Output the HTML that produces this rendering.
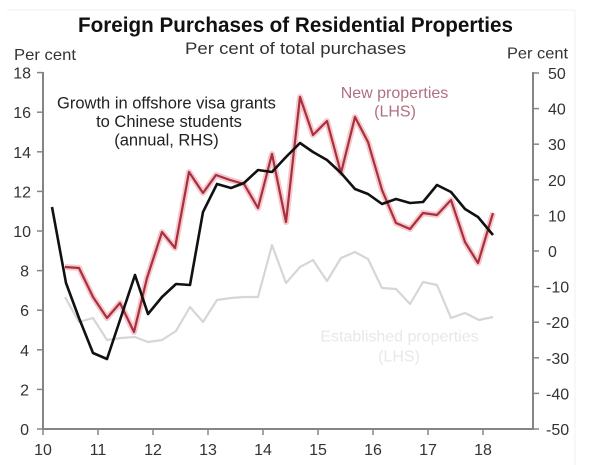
<!DOCTYPE html>
<html><head><meta charset="utf-8"><style>
html,body{margin:0;padding:0;background:#fff;}
svg{display:block;font-family:"Liberation Sans",Arial,sans-serif;}
</style></head><body>
<svg width="600" height="465" viewBox="0 0 600 465" xmlns="http://www.w3.org/2000/svg">
<rect x="0" y="0" width="600" height="465" fill="#fff"/>
<line x1="7" y1="10" x2="575" y2="10" stroke="#f0f0f0" stroke-width="1"/>
<line x1="575" y1="10" x2="575" y2="465" stroke="#f2f2f2" stroke-width="1"/>

<text x="78" y="32" font-size="21" font-weight="bold" fill="#111" textLength="435" lengthAdjust="spacingAndGlyphs">Foreign Purchases of Residential Properties</text>
<text x="185" y="54" font-size="16.5" fill="#333" textLength="221" lengthAdjust="spacingAndGlyphs">Per cent of total purchases</text>
<text x="14" y="60" font-size="16" fill="#333" textLength="62" lengthAdjust="spacingAndGlyphs">Per cent</text>
<text x="507" y="58.5" font-size="16" fill="#333" textLength="61" lengthAdjust="spacingAndGlyphs">Per cent</text>

<!-- axes -->
<g stroke="#858585" stroke-width="2" fill="none">
<line x1="43" y1="72" x2="43" y2="430"/>
<line x1="42" y1="429" x2="534" y2="429"/>
<line x1="533" y1="72" x2="533" y2="430"/>
</g>
<g stroke="#858585" stroke-width="1.5">
<line x1="37" y1="429" x2="43" y2="429"/>
<line x1="37" y1="389.4" x2="43" y2="389.4"/>
<line x1="37" y1="349.8" x2="43" y2="349.8"/>
<line x1="37" y1="310.2" x2="43" y2="310.2"/>
<line x1="37" y1="270.6" x2="43" y2="270.6"/>
<line x1="37" y1="231" x2="43" y2="231"/>
<line x1="37" y1="191.4" x2="43" y2="191.4"/>
<line x1="37" y1="151.8" x2="43" y2="151.8"/>
<line x1="37" y1="112.2" x2="43" y2="112.2"/>
<line x1="37" y1="72.6" x2="43" y2="72.6"/>
<line x1="533" y1="73" x2="539" y2="73"/>
<line x1="533" y1="108.6" x2="539" y2="108.6"/>
<line x1="533" y1="144.2" x2="539" y2="144.2"/>
<line x1="533" y1="179.8" x2="539" y2="179.8"/>
<line x1="533" y1="215.4" x2="539" y2="215.4"/>
<line x1="533" y1="251" x2="539" y2="251"/>
<line x1="533" y1="286.6" x2="539" y2="286.6"/>
<line x1="533" y1="322.2" x2="539" y2="322.2"/>
<line x1="533" y1="357.8" x2="539" y2="357.8"/>
<line x1="533" y1="393.4" x2="539" y2="393.4"/>
<line x1="533" y1="429" x2="539" y2="429"/>
<line x1="43" y1="429" x2="43" y2="435"/>
<line x1="98" y1="429" x2="98" y2="435"/>
<line x1="153" y1="429" x2="153" y2="435"/>
<line x1="208" y1="429" x2="208" y2="435"/>
<line x1="263" y1="429" x2="263" y2="435"/>
<line x1="318" y1="429" x2="318" y2="435"/>
<line x1="373" y1="429" x2="373" y2="435"/>
<line x1="428" y1="429" x2="428" y2="435"/>
<line x1="483" y1="429" x2="483" y2="435"/>
</g>

<g font-size="16" fill="#333" text-anchor="end">
<text x="29" y="435">0</text>
<text x="29" y="395.4">2</text>
<text x="29" y="355.8">4</text>
<text x="29" y="316.2">6</text>
<text x="29" y="276.6">8</text>
<text x="31" y="237">10</text>
<text x="31" y="197.4">12</text>
<text x="31" y="157.8">14</text>
<text x="31" y="118.2">16</text>
<text x="31" y="78.6">18</text>
</g>
<g font-size="16" fill="#333">
<text x="548" y="79">50</text>
<text x="548" y="114.6">40</text>
<text x="548" y="150.2">30</text>
<text x="548" y="185.8">20</text>
<text x="548" y="221.4">10</text>
<text x="548" y="257">0</text>
<text x="546" y="292.6">-10</text>
<text x="546" y="328.2">-20</text>
<text x="546" y="363.8">-30</text>
<text x="546" y="399.4">-40</text>
<text x="546" y="435">-50</text>
</g>
<g font-size="16" fill="#333" text-anchor="middle">
<text x="43" y="455">10</text>
<text x="98" y="455">11</text>
<text x="153" y="455">12</text>
<text x="208" y="455">13</text>
<text x="263" y="455">14</text>
<text x="318" y="455">15</text>
<text x="373" y="455">16</text>
<text x="428" y="455">17</text>
<text x="483" y="455">18</text>
</g>

<!-- established (gray) -->
<polyline fill="none" stroke="#d6d6d6" stroke-width="2.2" stroke-linejoin="round" points="65,297 79,322 93,318 107,340 121,338 135,337 148,342 162,340 176,331 190,307 203,322 217,300 231,298 244,297 258,297 272,245 286,283 300,267 313,260 327,281 341,258 355,252 368,259 382,288 396,289 410,304 423,282 437,285 451,318 465,313 479,320 493,317"/>

<!-- new properties (red) -->
<polyline fill="none" stroke="#f6c8cc" stroke-width="6" stroke-linejoin="round" points="65,267 79,268 93,297 107,318 120,303 134,332 147,278 162,232 175,248 189,172 203,193 216,175 230,180 244,184 258,208 272,154 286,222 300,97 313,135 327,121 341,173 355,117 368,142 382,190 396,223 410,229 423,213 437,215 451,200 465,242 478,263 493,213"/>
<polyline fill="none" stroke="#a8303e" stroke-width="2.2" stroke-linejoin="round" points="65,267 79,268 93,297 107,318 120,303 134,332 147,278 162,232 175,248 189,172 203,193 216,175 230,180 244,184 258,208 272,154 286,222 300,97 313,135 327,121 341,173 355,117 368,142 382,190 396,223 410,229 423,213 437,215 451,200 465,242 478,263 493,213"/>

<!-- visa growth (black) -->
<polyline fill="none" stroke="#111" stroke-width="2.6" stroke-linejoin="round" points="52,207 66,283 79,318 93,353 107,359 121,317 135,275 148,314 162,297 176,284 190,285 203,212 217,184 231,188 244,183 258,170 272,172 286,157 300,143 313,152 327,160 341,173 355,189 368,194 382,204 396,199 410,203 423,202 437,185 451,192 465,209 478,217 493,235"/>

<!-- annotations -->
<g font-size="16.5" fill="#222" text-anchor="middle">
<text x="166.5" y="108.5">Growth in offshore visa grants</text>
<text x="169" y="127">to Chinese students</text>
<text x="166.5" y="145.5">(annual, RHS)</text>
</g>
<g font-size="16" fill="#b07080" text-anchor="middle">
<text x="394.5" y="98">New properties</text>
<text x="395" y="116.5">(LHS)</text>
</g>
<g font-size="16" fill="#e8e8e8" text-anchor="middle">
<text x="399.5" y="341.5">Established properties</text>
<text x="399" y="361.5">(LHS)</text>
</g>
</svg>
</body></html>
